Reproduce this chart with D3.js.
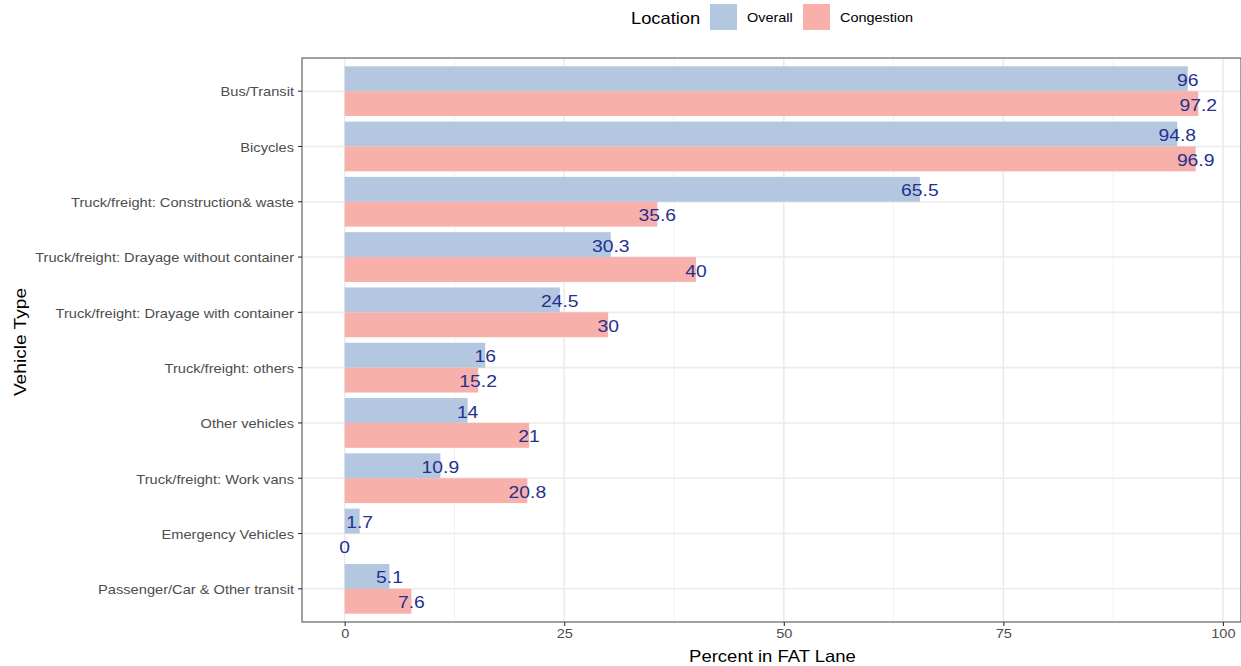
<!DOCTYPE html>
<html>
<head>
<meta charset="utf-8">
<script src="https://cdn.jsdelivr.net/npm/d3@7"></script>
<style>
  html, body { margin: 0; padding: 0; background: #fff; }
  svg { display: block; font-family: "Liberation Sans", Arial, Helvetica, sans-serif; }
</style>
</head>
<body>
<svg id="chart" width="1241" height="666"></svg>
<script>
// ---- Data ----
const categories = [
  "Bus/Transit",
  "Bicycles",
  "Truck/freight: Construction& waste",
  "Truck/freight: Drayage without container",
  "Truck/freight: Drayage with container",
  "Truck/freight: others",
  "Other vehicles",
  "Truck/freight: Work vans",
  "Emergency Vehicles",
  "Passenger/Car & Other transit"
];
const seriesNames = ["Overall", "Congestion"];
const overallValues    = [96, 94.8, 65.5, 30.3, 24.5, 16, 14, 10.9, 1.7, 5.1];
const congestionValues = [97.2, 96.9, 35.6, 40, 30, 15.2, 21, 20.8, 0, 7.6];
const xTicks = [0, 25, 50, 75, 100];
const xMinorTicks = [12.5, 37.5, 62.5, 87.5];
const seriesColors = ["#b3c7e1", "#f8b0ab"];

// ---- Helpers ----
function stretch(sel, k) {
  sel.each(function () {
    const L = this.getComputedTextLength();
    this.setAttribute("textLength", L * k);
    this.setAttribute("lengthAdjust", "spacingAndGlyphs");
  });
}

// ---- Layout ----
const svg = d3.select("#chart");
const panel = { left: 302, right: 1241, top: 58, bottom: 622 };

const allVals = overallValues.concat(congestionValues);
const xMax = d3.max(allVals), xMinV = 0;
const pad = (xMax - xMinV) * 0.05;
const x = d3.scaleLinear().domain([xMinV - pad, xMax + pad]).range([panel.left, panel.right]);

const y = d3.scaleBand().domain(categories).range([panel.top, panel.bottom])
  .paddingInner(0).paddingOuter(0.1);
const bw = y.bandwidth();
const ySub = d3.scaleBand().domain(seriesNames).range([bw * 0.05, bw * 0.95]).padding(0);
const color = d3.scaleOrdinal().domain(seriesNames).range(seriesColors);

const rows = [];
categories.forEach((c, i) => {
  rows.push({ cat: c, series: "Overall", value: overallValues[i] });
  rows.push({ cat: c, series: "Congestion", value: congestionValues[i] });
});

// panel background
svg.append("rect").attr("x", panel.left).attr("y", panel.top)
  .attr("width", panel.right - panel.left).attr("height", panel.bottom - panel.top)
  .attr("fill", "#fff");

// gridlines
const grid = svg.append("g");
xMinorTicks.forEach(t => {
  grid.append("line").attr("x1", x(t)).attr("x2", x(t))
    .attr("y1", panel.top).attr("y2", panel.bottom)
    .attr("stroke", "#f2f2f2").attr("stroke-width", 1);
});
xTicks.forEach(t => {
  grid.append("line").attr("x1", x(t)).attr("x2", x(t))
    .attr("y1", panel.top).attr("y2", panel.bottom)
    .attr("stroke", "#ebebeb").attr("stroke-width", 1.6);
});
categories.forEach(c => {
  const cy = y(c) + bw / 2;
  grid.append("line").attr("x1", panel.left).attr("x2", panel.right)
    .attr("y1", cy).attr("y2", cy)
    .attr("stroke", "#ebebeb").attr("stroke-width", 1.6);
});

// bars
svg.append("g").selectAll("rect").data(rows).join("rect")
  .attr("x", d => x(0))
  .attr("y", d => y(d.cat) + ySub(d.series))
  .attr("width", d => Math.max(0, x(d.value) - x(0)))
  .attr("height", ySub.bandwidth())
  .attr("fill", d => color(d.series));

// value labels
const vlabels = svg.append("g").selectAll("text").data(rows).join("text")
  .attr("x", d => x(d.value))
  .attr("y", d => y(d.cat) + ySub(d.series) + ySub.bandwidth() / 2 + 1.5)
  .attr("text-anchor", "middle")
  .attr("dominant-baseline", "central")
  .attr("font-size", 16.8)
  .attr("fill", "#25318f")
  .text(d => d3.format("~g")(d.value));
stretch(vlabels, 1.15);

// panel border
svg.append("rect").attr("x", panel.left).attr("y", panel.top)
  .attr("width", panel.right - panel.left).attr("height", panel.bottom - panel.top)
  .attr("fill", "none").attr("stroke", "#555").attr("stroke-width", 1.1);

// axes
const xAxis = svg.append("g").attr("transform", `translate(0,${panel.bottom})`)
  .call(d3.axisBottom(x).tickValues(xTicks).tickSize(4).tickPadding(3).tickFormat(d3.format("d")));
xAxis.select(".domain").remove();
xAxis.selectAll(".tick line").attr("stroke", "#333").attr("stroke-width", 1.1);
xAxis.selectAll(".tick text").attr("fill", "#4d4d4d").attr("font-size", 13)
  .style("font-family", "Liberation Sans, Arial, sans-serif");
stretch(xAxis.selectAll(".tick text"), 1.12);

const yAxis = svg.append("g").attr("transform", `translate(${panel.left},0)`)
  .call(d3.axisLeft(y).tickSize(4).tickPadding(4));
yAxis.select(".domain").remove();
yAxis.selectAll(".tick line").attr("stroke", "#333").attr("stroke-width", 1.1);
yAxis.selectAll(".tick text").attr("fill", "#4d4d4d").attr("font-size", 13.3)
  .attr("y", 1)
  .style("font-family", "Liberation Sans, Arial, sans-serif");
stretch(yAxis.selectAll(".tick text"), 1.1);

// axis titles
const xt = svg.append("text").attr("x", (panel.left + panel.right) / 2 + 1).attr("y", 662)
  .attr("text-anchor", "middle").attr("font-size", 16.5).attr("fill", "#000")
  .text("Percent in FAT Lane");
stretch(xt, 1.12);
const yt = svg.append("text")
  .attr("transform", `translate(26,${(panel.top + panel.bottom) / 2 + 2}) rotate(-90)`)
  .attr("text-anchor", "middle").attr("font-size", 16.5).attr("fill", "#000")
  .text("Vehicle Type");
stretch(yt, 1.16);

// legend
const legend = svg.append("g");
const lt = legend.append("text").attr("x", 631).attr("y", 23.5).attr("font-size", 16.5).attr("fill", "#000")
  .text("Location");
stretch(lt, 1.11);
const keyX = [710, 803];
seriesNames.forEach((s, i) => {
  legend.append("rect").attr("x", keyX[i]).attr("y", 4).attr("width", 27).attr("height", 26)
    .attr("fill", color(s));
  const t = legend.append("text").attr("x", keyX[i] + 37).attr("y", 22).attr("font-size", 13)
    .attr("fill", "#000").text(s);
  stretch(t, 1.11);
});
</script>
</body>
</html>
